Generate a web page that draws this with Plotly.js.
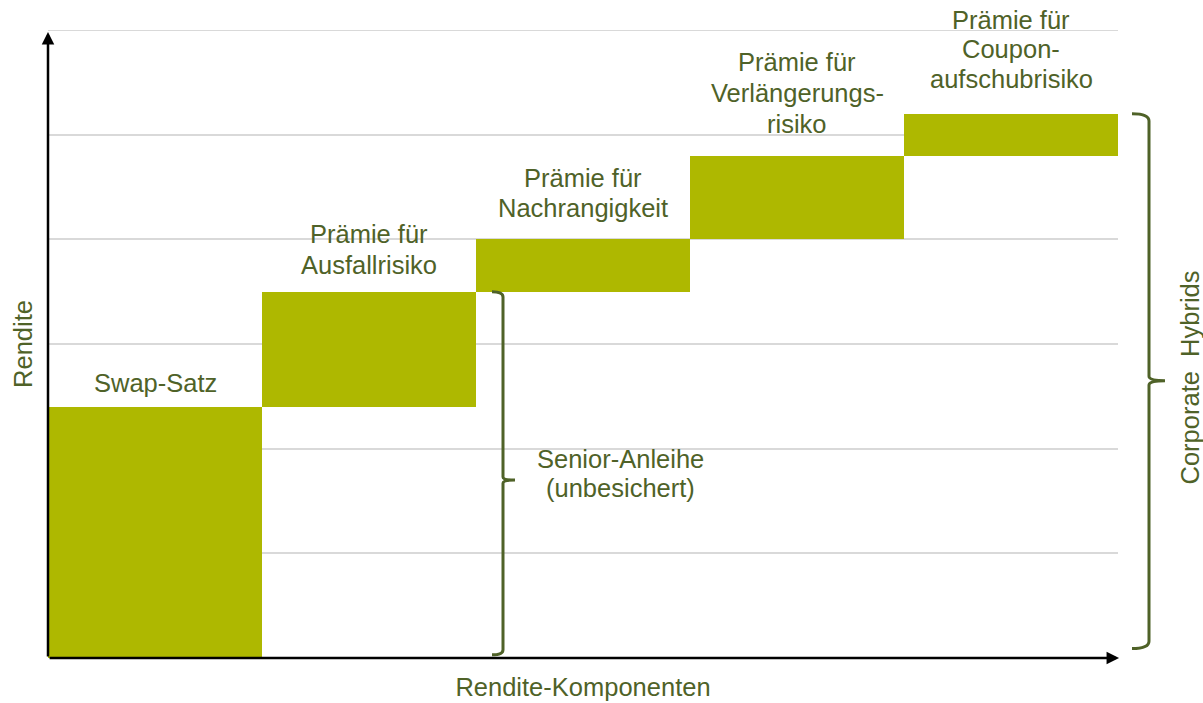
<!DOCTYPE html>
<html>
<head>
<meta charset="utf-8">
<script src="https://cdn.plot.ly/plotly-3.0.1.min.js"></script>
<style>html,body{margin:0;padding:0;background:#fff}#chart{width:1203px;height:703px}</style>
</head>
<body>
<div id="chart"></div>
<script>
// Data
var categories = ["Swap-Satz", "Ausfallrisiko", "Nachrangigkeit", "Verlängerungsrisiko", "Couponaufschubrisiko"];
var increments = [2.4, 1.1, 0.5, 0.8, 0.4];
var labelLines = [
  ["Swap-Satz"],
  ["Prämie für", "Ausfallrisiko"],
  ["Prämie für", "Nachrangigkeit"],
  ["Prämie für", "Verlängerungs-", "risiko"],
  ["Prämie für", "Coupon-", "aufschubrisiko"]
];
var seniorLines = ["Senior-Anleihe", "(unbesichert)"];
var hybridLabel = "Corporate  Hybrids";
var xTitle = "Rendite-Komponenten";
var yTitle = "Rendite";
var yMax = 6;

var bases = [];
var tops = [];
var acc = 0;
for (var i = 0; i < increments.length; i++) { bases.push(acc); acc += increments[i]; tops.push(acc); }
var seniorTop = tops[1];
var hybridTop = tops[4];

var barColor = "#aeb800";
var textColor = "#4f6228";
var font = "Liberation Sans, Arial, sans-serif";
var fs = 25.5;
var lineGaps = [29.5, 30.5, 30.5, 31, 29.5];
var labelOffsets = [24, 27, 31, 32, 35]; // px from bar top to centre of last line

var trace = {
  type: "bar",
  x: categories,
  y: increments,
  base: bases,
  marker: {color: barColor, line: {width: 0}},
  hoverinfo: "skip"
};

var annotations = [];
for (var j = 0; j < categories.length; j++) {
  var lines = labelLines[j];
  for (var k = 0; k < lines.length; k++) {
    annotations.push({
      x: categories[j], y: tops[j], xref: "x", yref: "y",
      text: lines[k], showarrow: false, yanchor: "middle", xanchor: "center",
      yshift: labelOffsets[j] + (lines.length - 1 - k) * lineGaps[j],
      font: {family: font, size: fs, color: textColor}
    });
  }
}
for (var s = 0; s < seniorLines.length; s++) {
  annotations.push({
    x: (620 - 48) / 1070, y: seniorTop / 2, xref: "paper", yref: "y",
    text: seniorLines[s], showarrow: false, xanchor: "center", yanchor: "middle",
    yshift: -((s - 0.5) * 29.5) + 1.5,
    font: {family: font, size: fs, color: textColor}
  });
}
annotations.push({
  x: (1190 - 48) / 1070, y: hybridTop / 2 + 0.08, xref: "paper", yref: "y",
  text: hybridLabel, showarrow: false, textangle: -90, xanchor: "center", yanchor: "middle",
  font: {family: font, size: fs, color: textColor}
});
// axis arrows
annotations.push({
  x: 0, y: 0.997, xref: "paper", yref: "paper", axref: "pixel", ayref: "pixel",
  ax: 0, ay: 626, text: "", showarrow: true, arrowhead: 2, arrowsize: 1,
  arrowwidth: 2.5, arrowcolor: "#000", standoff: 0, startstandoff: 0
});
annotations.push({
  x: 1.001, y: 0, xref: "paper", yref: "paper", axref: "pixel", ayref: "pixel",
  ax: -1071, ay: 0, text: "", showarrow: true, arrowhead: 2, arrowsize: 1,
  arrowwidth: 2.5, arrowcolor: "#000", standoff: 0, startstandoff: 0
});

function px(p) { return (p - 48) / 1070; }
function brace(xv, xl, xt, y0, y1, ym, r) {
  return "M" + xl + "," + y1 +
    " Q" + xv + "," + y1 + " " + xv + "," + (y1 - r) +
    " L" + xv + "," + (ym + r * 0.6) +
    " Q" + xv + "," + ym + " " + xt + "," + ym +
    " Q" + xv + "," + ym + " " + xv + "," + (ym - r * 0.6) +
    " L" + xv + "," + (y0 + r) +
    " Q" + xv + "," + y0 + " " + xl + "," + y0;
}
var shapes = [
  {type: "line", xref: "paper", yref: "y", x0: 0, x1: 1, y0: yMax, y1: yMax,
   line: {color: "#d9d9d9", width: 2}, layer: "below"},
  {type: "path", xref: "paper", yref: "y",
   path: brace(px(503), px(492), px(515), 0.03, seniorTop, seniorTop / 2 - 0.05, 0.05),
   line: {color: textColor, width: 3}},
  {type: "path", xref: "paper", yref: "y",
   path: brace(px(1149), px(1132), px(1165), 0.09, hybridTop, 2.65, 0.07),
   line: {color: textColor, width: 3}}
];

var layout = {
  width: 1203, height: 703,
  margin: {l: 48, r: 85, t: 30, b: 45},
  paper_bgcolor: "#fff", plot_bgcolor: "#fff",
  bargap: 0,
  showlegend: false,
  xaxis: {
    type: "category", range: [-0.5, 4.5], showgrid: false, zeroline: false,
    showline: false, showticklabels: false, ticks: "", fixedrange: true,
    title: {text: xTitle, standoff: 20, font: {family: font, size: fs, color: textColor}},
    automargin: false
  },
  yaxis: {
    range: [0, yMax], dtick: 1, showgrid: true, gridcolor: "#d9d9d9", gridwidth: 2,
    zeroline: false, showline: false, showticklabels: false, ticks: "",
    title: {text: yTitle, standoff: 7, font: {family: font, size: fs, color: textColor}},
    automargin: false
  },
  annotations: annotations,
  shapes: shapes
};

Plotly.newPlot("chart", [trace], layout, {displayModeBar: false, staticPlot: true});
</script>
</body>
</html>
